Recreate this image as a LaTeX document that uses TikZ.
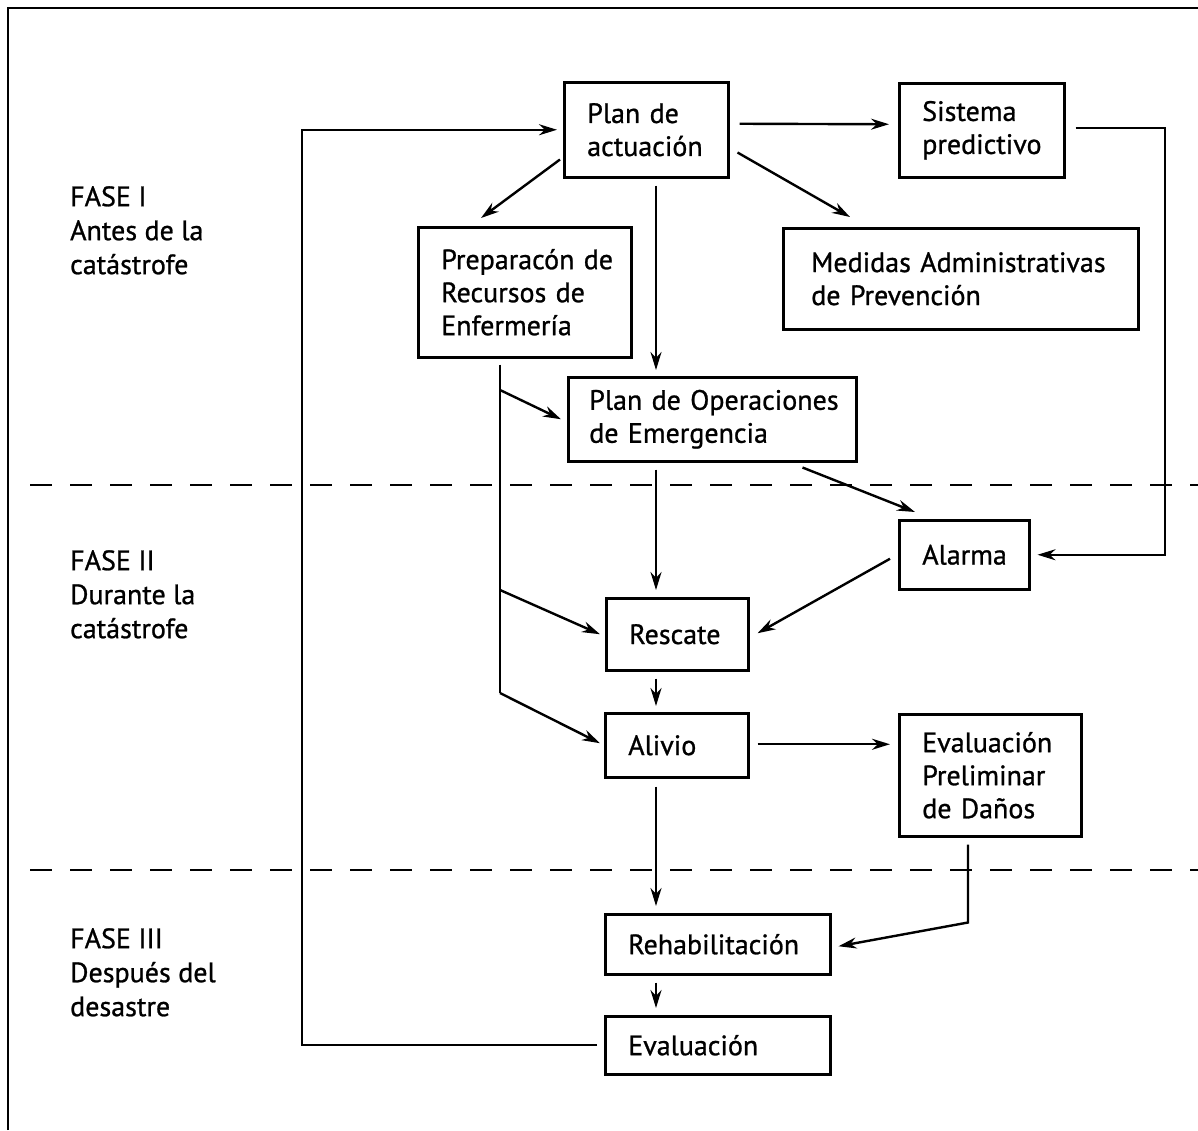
\documentclass[tikz,border=0pt]{standalone}
\usepackage{fontspec}
\setmainfont{PT Sans}[FakeBold=0.9]
\usetikzlibrary{arrows.meta,calc}
\begin{document}
\begin{tikzpicture}[x=1pt,y=-1pt,
  box/.style={draw,line width=2.5pt,inner xsep=23pt,inner ysep=0pt,align=left,anchor=north west,
    font=\fontsize{28}{33}\selectfont},
  phase/.style={inner sep=0pt,align=left,anchor=north west,font=\fontsize{28}{34}\selectfont},
  conn/.style={line width=2.4pt},
  arr/.style={conn,-{Stealth[length=18pt,width=11pt]}},
  dashline/.style={line width=2.4pt,dash pattern=on 22pt off 18pt}]
\useasboundingbox (0,0) rectangle (1198,1130);
% frame
\draw[line width=2.4pt] (8,1130) -- (8,8) -- (1198,8);
% phase separators
\draw[dashline] (30,485) -- (1198,485);
\draw[dashline] (30,870) -- (1198,870);
% phase labels
\node[phase] (f1) at (70,186) {FASE I\\Antes de la\\catástrofe};
\node[phase] (f2) at (70,550) {FASE II\\Durante la\\catástrofe};
\node[phase] (f3) at (70,928) {FASE III\\Después del\\desastre};
% boxes
\node[box,text width=118pt,minimum height=95pt] (plan) at (563,81) {\mbox{Plan de}\\\mbox{actuación}};
\node[box,text width=119pt,minimum height=94pt] (sis) at (898,82) {\mbox{Sistema}\\\mbox{predictivo}};
\node[box,inner xsep=28pt,text width=299pt,minimum height=101pt] (med) at (782,227) {\mbox{Medidas Administrativas}\\\mbox{de Prevención}};
\node[box,text width=167pt,minimum height=130pt] (prep) at (417,226) {\mbox{Preparacón de}\\\mbox{Recursos de}\\\mbox{Enfermería}};
\node[box,inner xsep=21pt,text width=246pt,minimum height=84pt] (ope) at (567,376) {\mbox{Plan de Operaciones}\\\mbox{de Emergencia}};
\node[box,text width=84pt,minimum height=69pt] (alarm) at (898,519) {\mbox{Alarma}};
\node[box,text width=96pt,minimum height=72pt] (resc) at (605,597) {\mbox{Rescate}};
\node[box,text width=97pt,minimum height=64pt] (aliv) at (604,712) {\mbox{Alivio}};
\node[box,text width=136pt,minimum height=122pt] (evp) at (898,713) {\mbox{Evaluación}\\\mbox{Preliminar}\\\mbox{de Daños}};
\node[box,text width=179pt,minimum height=60pt] (rehab) at (604,913) {\mbox{Rehabilitación}};
\node[box,text width=179pt,minimum height=58pt] (eval) at (604,1015) {\mbox{Evaluación}};
% helper columns
\coordinate (cx) at (656,0);
\coordinate (px) at (500,0);
\coordinate (lx) at (302,0);
\coordinate (rx) at (1165,0);
% connectors
\draw[arr,shorten >=6pt] ([xshift=-7pt]eval.west) -| (lx |- plan.west) -- (plan.west);
\draw[arr] ([shift={(10,-6)}]plan.east) -- ([shift={(-9,-6)}]sis.west);
\draw[arr,shorten >=7pt] ([shift={(10,-2)}]sis.east) -| (rx |- alarm.east) -- (alarm.east);
\draw[arr] ([shift={(-3,-19)}]plan.south west) -- ([shift={(64,-8)}]prep.north west);
\draw[arr] ([shift={(8,-26)}]plan.south east) -- ([shift={(68,-10)}]med.north west);
\draw[arr,shorten <=7pt,shorten >=6pt] (cx |- plan.south) -- (cx |- ope.north);
\draw[conn,shorten <=6pt] (px |- prep.south) -- ($(px |- aliv.north)+(0,-19)$);
\draw[arr] ($(px |- aliv.north)+(0,-19)$) -- ([shift={(-4,-2)}]aliv.west);
\draw[arr] ($(px |- ope.north)+(0,14)$) -- ([xshift=-6pt]ope.west);
\draw[arr] ($(px |- resc.north)+(0,-7)$) -- ([xshift=-5pt]resc.west);
\draw[arr] ([shift={(-55,5)}]ope.south east) -- ([shift={(17,-7)}]alarm.north west);
\draw[arr,shorten <=7pt,shorten >=7pt] (cx |- ope.south) -- (cx |- resc.north);
\draw[arr] ([shift={(-8,4)}]alarm.west) -- ([shift={(8,-1)}]resc.east);
\draw[arr,shorten <=7pt,shorten >=6pt] (cx |- resc.south) -- (cx |- aliv.north);
\draw[arr,shorten <=8pt,shorten >=8pt] ($(aliv.east)+(0,-1)$) -- ($(evp.west |- aliv.east)+(0,-1)$);
\draw[arr,shorten <=8pt,shorten >=7pt] (cx |- aliv.south) -- (cx |- rehab.north);
\draw[arr] ([shift={(70,7)}]evp.south west) -- ([shift={(70,85)}]evp.south west) -- ([shift={(7,2)}]rehab.east);
\draw[arr,shorten <=7pt,shorten >=7pt] (cx |- rehab.south) -- (cx |- eval.north);
\end{tikzpicture}
\end{document}
